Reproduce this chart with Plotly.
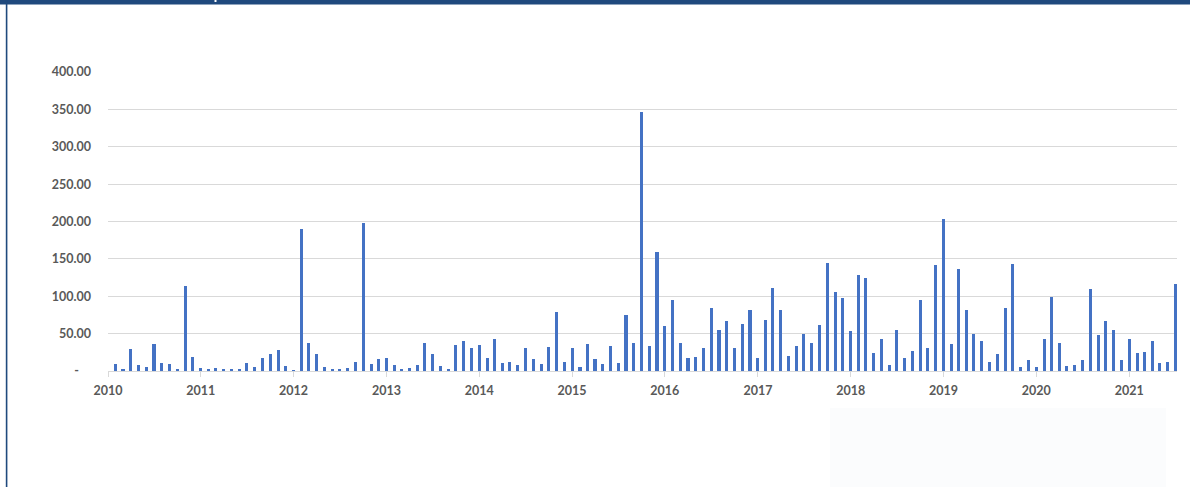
import pandas as pd
import plotly.graph_objects as go

# Monthly values, Jan 2010 .. Jul 2021
months = pd.date_range("2010-01-01", "2021-07-01", freq="MS")
values = [
    # 2010
    0, 8.8, 2.5, 29.4, 7.5, 4.8, 35.7, 10.6, 8.8, 3.0, 113.5, 18.2,
    # 2011
    4.3, 2.5, 4.3, 2.1, 2.1, 1.7, 11.0, 4.8, 17.3, 23.2, 27.6, 7.0,
    # 2012
    0.5, 190.0, 37.9, 22.7, 5.7, 2.5, 2.1, 3.4, 11.5, 197.6, 9.7, 15.5,
    # 2013
    17.3, 7.9, 2.5, 3.4, 8.4, 37.5, 22.7, 6.1, 3.0, 34.8, 39.7, 30.3,
    # 2014
    34.8, 17.3, 42.8, 11.1, 11.5, 8.0, 31.2, 15.5, 9.7, 32.1, 79.1, 12.4,
    # 2015
    31.2, 5.2, 35.7, 15.5, 8.8, 33.4, 11.1, 74.6, 37.5, 346.3, 33.9, 159.7,
    # 2016
    59.8, 94.8, 37.5, 17.3, 18.2, 30.3, 84.5, 54.5, 67.0, 30.3, 62.5, 81.3,
    # 2017
    16.9, 67.9, 110.4, 81.3, 20.0, 33.0, 49.6, 37.9, 61.2, 144.0, 106.0, 97.4,
    # 2018
    53.6, 128.7, 124.2, 23.6, 42.8, 7.5, 54.5, 17.3, 26.3, 95.6, 30.7, 141.7,
    # 2019
    203.0, 36.1, 136.4, 81.8, 49.6, 40.6, 11.5, 22.7, 84.9, 143.6, 5.2, 14.6,
    # 2020
    5.2, 42.8, 99.2, 37.9, 6.1, 7.5, 15.0, 110.0, 48.7, 67.0, 55.0, 14.6,
    # 2021
    42.8, 23.6, 25.4, 40.1, 11.1, 12.0, 115.8,
]

y_ticks = [0, 50, 100, 150, 200, 250, 300, 350, 400]
y_labels = ["-    ", "50.00", "100.00", "150.00", "200.00", "250.00",
            "300.00", "350.00", "400.00"]
year_ticks = [f"{y}-01-01" for y in range(2010, 2022)]
year_labels = [str(y) for y in range(2010, 2022)]

W, H = 1190, 487
L, R, T, B = 108, 1177, 72, 371  # plot area in pixels


def px(x):
    return (x - L) / (R - L)


def py(y):
    return (B - y) / (B - T)


fig = go.Figure(
    go.Bar(
        x=months,
        y=values,
        width=12 * 24 * 3600 * 1000,
        marker=dict(color="#4472C4", line=dict(width=0), cornerradius=1),
        hoverinfo="x+y",
    )
)

label_font = dict(family="Lato, Calibri, sans-serif", size=12.5,
                  color="#595959", weight="bold")

fig.update_layout(
    width=W,
    height=H,
    margin=dict(l=L, r=W - R, t=T, b=H - B),
    paper_bgcolor="white",
    plot_bgcolor="white",
    showlegend=False,
    bargap=0,
    xaxis=dict(
        type="date",
        range=["2010-01-01", "2021-07-08"],
        tickvals=year_ticks,
        ticktext=year_labels,
        ticks="outside",
        ticklen=5,
        tickcolor="#d9d9d9",
        showgrid=False,
        showline=True,
        linecolor="#d9d9d9",
        linewidth=1,
        tickfont=label_font,
        ticklabelstandoff=3,
        fixedrange=True,
    ),
    yaxis=dict(
        range=[0, 400],
        tickvals=y_ticks,
        ticktext=y_labels,
        showgrid=True,
        gridcolor="#d9d9d9",
        gridwidth=1,
        zeroline=False,
        showline=False,
        tickfont=label_font,
        ticklabelstandoff=16,
        fixedrange=True,
    ),
    shapes=[
        # header band across the top
        dict(type="rect", xref="paper", yref="paper",
             x0=px(0), x1=px(W), y0=py(0), y1=py(4.5),
             fillcolor="#1F497D", line=dict(width=0), layer="above"),
        dict(type="rect", xref="paper", yref="paper",
             x0=px(214.5), x1=px(216.5), y0=py(0), y1=py(2),
             fillcolor="white", line=dict(width=0), layer="above"),
        # left frame line
        dict(type="rect", xref="paper", yref="paper",
             x0=px(5.8), x1=px(7.4), y0=py(0), y1=py(H),
             fillcolor="#1F497D", line=dict(width=0), layer="above"),
        # faint panel in the lower right
        dict(type="rect", xref="paper", yref="paper",
             x0=px(830), x1=px(1166), y0=py(408), y1=py(H),
             fillcolor="rgba(235,239,246,0.18)", line=dict(width=0),
             layer="below"),
    ],
)

fig.write_html("out.html")
